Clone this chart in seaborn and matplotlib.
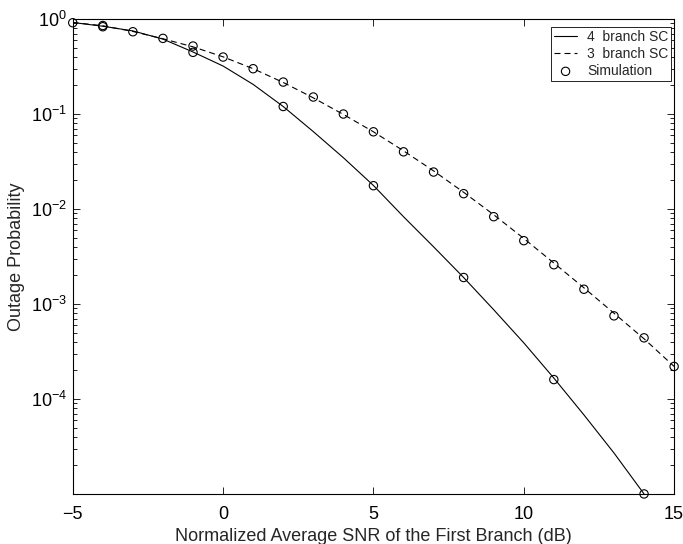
import pandas as pd
import seaborn as sns
import matplotlib.pyplot as plt

# analytic curves
snr_3 = list(range(-5, 16))
sc3_theory = [0.92, 0.85, 0.74, 0.62, 0.51, 0.40, 0.30, 0.215, 0.148, 0.099, 0.065,
              0.041, 0.0252, 0.0150, 0.0087, 0.0049, 0.0027, 0.00148, 0.00080, 0.00043, 0.00022]
snr_4 = list(range(-5, 15))
sc4_theory = [0.92, 0.84, 0.75, 0.615, 0.45, 0.32, 0.205, 0.12, 0.0653, 0.0347, 0.0177,
              0.0083, 0.0040, 0.0019, 8.7e-4, 3.9e-4, 1.66e-4, 6.8e-5, 2.7e-5, 1.0e-5]

# simulation points
sim_snr_3 = list(range(-5, 16))
sim_3 = [0.914, 0.855, 0.735, 0.626, 0.52, 0.398, 0.30, 0.217, 0.151, 0.100, 0.065,
         0.040, 0.0245, 0.0145, 0.0083, 0.00464, 0.00259, 0.00143, 0.00075, 0.00044, 0.00022]
sim_snr_4 = [-4, -1, 2, 5, 8, 11, 14]
sim_4 = [0.83, 0.446, 0.12, 0.0176, 0.0019, 1.6e-4, 1.0e-5]

sns.set_style("ticks")
plt.rcParams['font.family'] = ['Liberation Sans', 'DejaVu Sans']

fig, ax = plt.subplots(figsize=(6.83, 5.44), dpi=100)
fig.subplots_adjust(left=0.1065, right=0.987, bottom=0.092, top=0.965)

sns.lineplot(x=snr_4, y=sc4_theory, color="k", lw=0.8, label="4  branch SC", ax=ax)
sns.lineplot(x=snr_3, y=sc3_theory, color="k", lw=0.8, linestyle=(0, (5.4, 3.6)),
             label="3  branch SC", ax=ax)

sim = pd.DataFrame({"snr": sim_snr_3 + sim_snr_4, "p": sim_3 + sim_4})
sns.scatterplot(data=sim, x="snr", y="p", marker="o", s=36, facecolor="none",
                edgecolor="k", linewidth=0.8, label="Simulation", clip_on=False, ax=ax)
pts = ax.collections[-1]
pts.set_facecolor("none")
pts.set_edgecolor("k")

ax.set_yscale("log")
ax.set_xlim(-5, 15)
ax.set_ylim(1e-5, 1)
ax.set_xticks([-5, 0, 5, 10, 15])
ax.set_yticks([1e-4, 1e-3, 1e-2, 1e-1, 1])

for s in ax.spines.values():
    s.set_linewidth(0.8)
    s.set_color("k")
ax.tick_params(which="both", direction="in", top=True, right=True, width=0.6, colors="k")
ax.tick_params(which="major", length=5, labelsize=13)
ax.tick_params(axis="x", pad=9)
ax.tick_params(axis="y", pad=4)
ax.tick_params(which="minor", length=3)

ax.set_xlabel("Normalized Average SNR of the First Branch (dB)", fontsize=13, labelpad=3)
ax.set_ylabel("Outage Probability", fontsize=13, labelpad=4)

leg = ax.legend(loc="upper right", bbox_to_anchor=(0.995, 0.983), borderaxespad=0,
                fontsize=10, fancybox=False, edgecolor="k", framealpha=1,
                labelspacing=0.22, borderpad=0.2, handlelength=1.7, handletextpad=0.7)
leg.get_frame().set_linewidth(0.6)

plt.savefig("out.png", dpi=100)
